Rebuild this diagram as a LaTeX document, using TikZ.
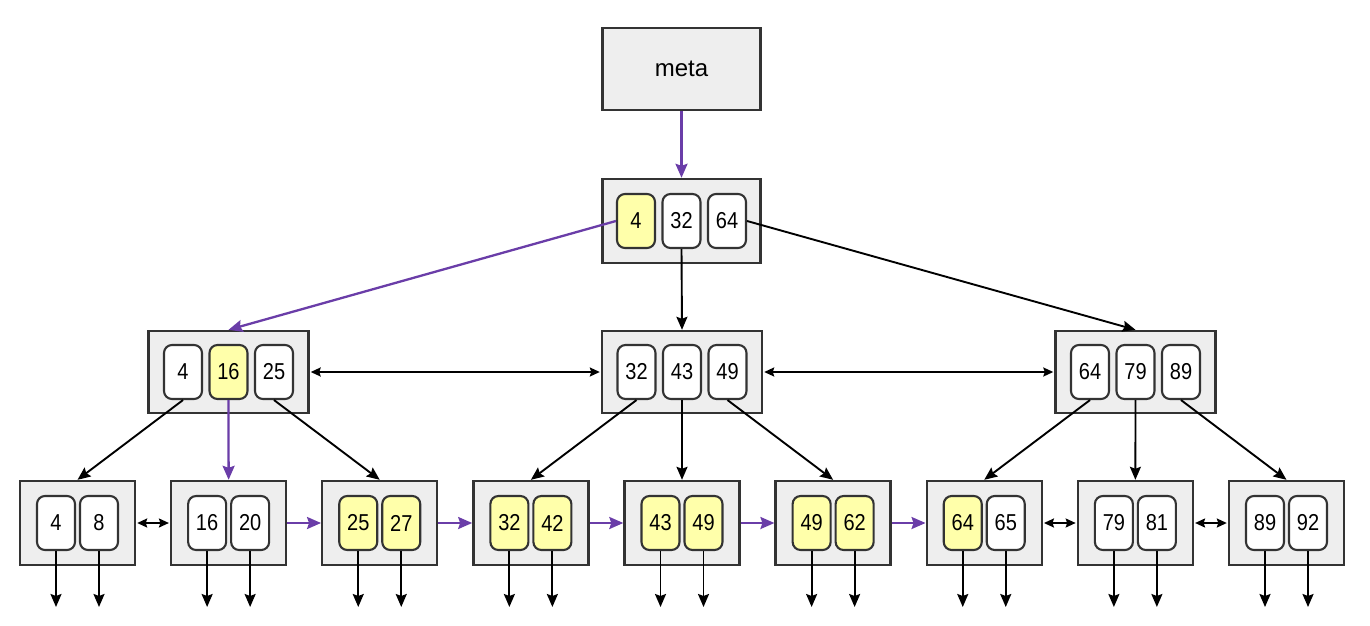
\documentclass[tikz,border=0pt]{standalone}
\usepackage{fontspec}
\setmainfont{Liberation Sans}
\newfontfamily\keyfont[FakeStretch=0.87]{Liberation Sans}
\usetikzlibrary{arrows.meta}
\definecolor{boxgray}{HTML}{EEEEEE}
\definecolor{edgegray}{HTML}{333333}
\definecolor{keyyellow}{HTML}{FFFFAA}
\definecolor{pathpurple}{HTML}{6A3DA8}

\begin{document}
\begin{tikzpicture}[x=1pt,y=-1pt,
  page/.style={draw=edgegray, line width=2.4pt, fill=boxgray, inner sep=0pt},
  key/.style={draw=edgegray, line width=2.1pt, fill=white, rounded corners=8pt,
    minimum width=38pt, minimum height=54pt, inner sep=0pt,
    font=\keyfont\fontsize{23}{23}\selectfont},
  link/.style={draw=black, line width=1.9pt, -{Stealth[length=13pt,width=11pt,inset=2pt]}},
  hot/.style={color=pathpurple, line width=2.3pt, -{Stealth[length=14pt,width=12pt,inset=2pt]}},
  sib/.style={draw=black, line width=1.9pt, shorten <=1pt, shorten >=1pt,
    {Stealth[length=10pt,width=9pt,inset=1.5pt]}-{Stealth[length=10pt,width=9pt,inset=1.5pt]}},
]
\useasboundingbox (0,0) rectangle (1370,626);

% meta page
\node[page, minimum width=158pt, minimum height=82pt,
      font=\fontsize{24}{24}\selectfont] (meta) at (681.5,69) {meta};

% root page
\node[page, minimum width=158pt, minimum height=84pt] (R) at (681.5,221) {};
\node[key, fill=keyyellow] (Ra) at (636,221) {4};
\node[key] (Rb) at (681.5,221) {32};
\node[key] (Rc) at (727,221) {64};

% branch pages
\foreach \n/\x/\ka/\kb/\kc/\fb in {1/228.5/4/16/25/keyyellow, 2/682/32/43/49/white, 3/1135.5/64/79/89/white}{
  \node[page, minimum width=160pt, minimum height=82pt] (M\n) at (\x,372) {};
  \node[key] (M\n a) at (\x-45.5,372) {\ka};
  \node[key, fill=\fb] (M\n b) at (\x,372) {\kb};
  \node[key] (M\n c) at (\x+45.5,372) {\kc};
}

% leaf pages with their value pointers
\foreach \n/\ka/\kb/\fa/\fb in {1/4/8/white/white, 2/16/20/white/white,
    3/25/27/keyyellow/keyyellow, 4/32/42/keyyellow/keyyellow,
    5/43/49/keyyellow/keyyellow, 6/49/62/keyyellow/keyyellow,
    7/64/65/keyyellow/white, 8/79/81/white/white, 9/89/92/white/white}{
  \pgfmathsetmacro{\cx}{77.5+151.125*(\n-1)}
  \node[page, minimum width=115pt, minimum height=84pt] (L\n) at (\cx,523) {};
  \node[key, fill=\fa] (L\n a) at (\cx-21.5,523) {\ka};
  \node[key, fill=\fb] (L\n b) at (\cx+21.5,523) {\kb};
  \coordinate (V\n a) at (\cx-21.5,607);
  \coordinate (V\n b) at (\cx+21.5,607);
  \draw[link] (L\n a.south) -- (V\n a);
  \draw[link] (L\n b.south) -- (V\n b);
}

% root to branches
\draw[hot] (meta.south) -- (R.north);
\draw[hot] (Ra.west) -- (M1.north);
\draw[link] (Rb.south) -- (M2.north);
\draw[link] (Rc.east) -- (M3.north);

% sibling links between branch pages
\draw[sib] (M1.east) -- (M2.west);
\draw[sib] (M2.east) -- (M3.west);

% branches to leaves
\draw[link] (M1a.south) -- (L1.north);
\draw[hot]  (M1b.south) -- (L2.north);
\draw[link] (M1c.south) -- (L3.north);
\draw[link] (M2a.south) -- (L4.north);
\draw[link] (M2b.south) -- (L5.north);
\draw[link] (M2c.south) -- (L6.north);
\draw[link] (M3a.south) -- (L7.north);
\draw[link] (M3b.south) -- (L8.north);
\draw[link] (M3c.south) -- (L9.north);

% leaf chain
\draw[sib] (L1.east) -- (L2.west);
\draw[hot] (L2.east) -- (L3.west);
\draw[hot] (L3.east) -- (L4.west);
\draw[hot] (L4.east) -- (L5.west);
\draw[hot] (L5.east) -- (L6.west);
\draw[hot] (L6.east) -- (L7.west);
\draw[sib] (L7.east) -- (L8.west);
\draw[sib] (L8.east) -- (L9.west);
\end{tikzpicture}
\end{document}
